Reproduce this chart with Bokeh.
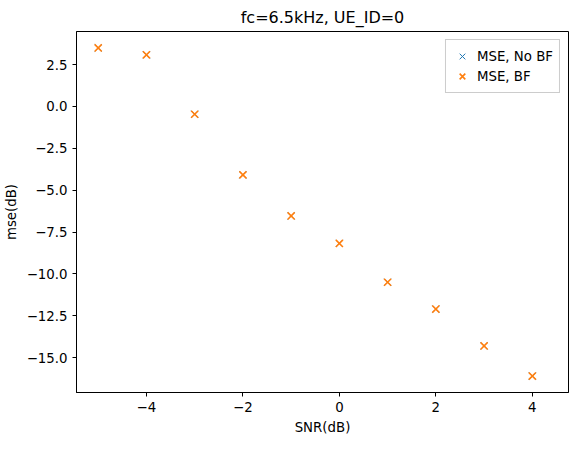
from bokeh.plotting import figure
from bokeh.models import Range1d, Legend, LegendItem, FixedTicker
from bokeh.embed import file_html
from bokeh.resources import INLINE

snr = [-5, -4, -3, -2, -1, 0, 1, 2, 3, 4]
mse_no_bf = [3.49, 3.08, -0.47, -4.09, -6.54, -8.18, -10.5, -12.1, -14.3, -16.1]
mse_bf = [3.49, 3.08, -0.47, -4.09, -6.54, -8.18, -10.5, -12.1, -14.3, -16.1]

p = figure(width=571, height=439, output_backend="svg", toolbar_location=None,
           title="fc=6.5kHz, UE_ID=0", x_axis_label="SNR(dB)", y_axis_label="mse(dB)",
           x_range=Range1d(-5.45, 4.75), y_range=Range1d(-17.08, 4.47),
           min_border_left=74, min_border_right=3, min_border_top=22, min_border_bottom=47)
p.title.align = "center"
p.title.text_font_style = "normal"
p.title.text_font = "DejaVu Sans"
p.title.text_font_size = "12pt"
p.title.text_color = "black"
p.grid.visible = False
p.outline_line_color = "black"
for ax in (p.xaxis[0], p.yaxis[0]):
    ax.axis_label_text_font_style = "normal"
    ax.axis_label_text_font = "DejaVu Sans"
    ax.axis_label_text_font_size = "10pt"
    ax.axis_label_text_color = "black"
    ax.major_label_text_font = "DejaVu Sans"
    ax.major_label_text_font_size = "10pt"
    ax.major_label_text_color = "black"
    ax.axis_line_color = "black"
    ax.major_tick_line_color = "black"
    ax.minor_tick_line_color = None
    ax.major_tick_in = 0
    ax.major_tick_out = 4
p.xaxis.ticker = FixedTicker(ticks=[-4, -2, 0, 2, 4])
p.yaxis.ticker = FixedTicker(ticks=[2.5, 0, -2.5, -5, -7.5, -10, -12.5, -15])
p.xaxis.major_label_overrides = {-4: "−4", -2: "−2"}
p.yaxis.major_label_overrides = {2.5: "2.5", 0: "0.0", -2.5: "−2.5", -5: "−5.0", -7.5: "−7.5",
                                 -10: "−10.0", -12.5: "−12.5", -15: "−15.0"}

r1 = p.scatter(snr, mse_no_bf, marker="x", size=10, line_color="#1f77b4", line_width=1.0)
r2 = p.scatter(snr, mse_bf, marker="x", size=10, line_color="#ff7f0e", line_width=1.6)

legend = Legend(items=[LegendItem(label="MSE, No BF", renderers=[r1]),
                       LegendItem(label="MSE, BF", renderers=[r2])],
                location="top_right", label_text_font="DejaVu Sans", label_text_font_size="10pt",
                label_text_color="black",
                border_line_color="#cccccc", border_line_alpha=1, glyph_width=20,
                spacing=0, padding=6, margin=8)
p.add_layout(legend)

open("out.html", "w").write(file_html(p, INLINE))
